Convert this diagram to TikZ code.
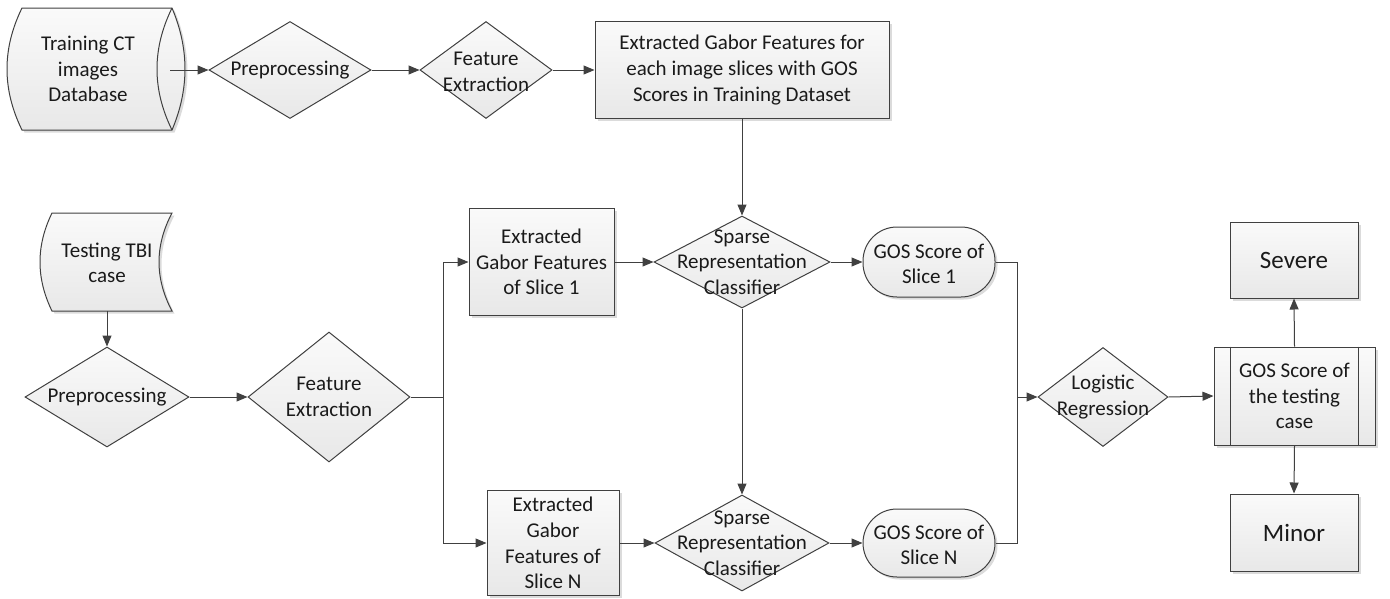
\documentclass[tikz,border=0pt]{standalone}
\usepackage{fontspec}
\setmainfont{Carlito}
\usetikzlibrary{arrows.meta,shapes.geometric,shadows}
\definecolor{ln}{HTML}{404040}
\definecolor{tx}{HTML}{1A1A1A}
\tikzset{
  base/.style={draw=ln, line width=1pt, top color=white!98!black, bottom color=black!9, inner sep=0pt, text=tx},
  shd/.style={drop shadow={shadow xshift=2.5pt, shadow yshift=-2.5pt, fill=black!14, opacity=1}},
  boxnode/.style={base, shd, rectangle},
  dia/.style={base, diamond},
  term/.style={base, shd, rectangle, rounded corners=34pt},
  lbl/.style={font=\fontsize{21}{25.6}\selectfont, align=center, text=tx, inner sep=0pt},
  big/.style={font=\fontsize{25}{30}\selectfont},
  arr/.style={draw=ln, line width=1pt, -{Triangle[length=11pt,width=9pt]}},
  ln/.style={draw=ln, line width=1pt},
}
\begin{document}
\begin{tikzpicture}[x=1pt, y=-1pt]
\useasboundingbox (0,0) rectangle (1390,598);

% ---- training database (horizontal cylinder)
\path[base, shd] (22,8) -- (172,8) .. controls (189.3,48.7) and (189.3,89.3) .. (172,130) -- (22,130) .. controls (2,89.3) and (2,48.7) .. (22,8) -- cycle;
\draw[ln] (172,8) .. controls (152,48.7) and (152,89.3) .. (172,130);
\node[lbl] (cylt) at (88,69) {Training CT\\images\\Database};
\coordinate (cylo) at (170,70);

% ---- top row
\node[dia, minimum width=162pt, minimum height=97pt] (p1) at (290,70) {};
\node[lbl] (p1t) at (p1) {Preprocessing};
\node[dia, minimum width=132pt, minimum height=97pt] (fe1) at (486,70) {};
\node[lbl] (fe1t) at (486,72) {Feature\\Extraction};
\node[boxnode, minimum width=294pt, minimum height=97pt] (tb) at (742,70) {};
\node[lbl] (tbt) at (tb) {Extracted Gabor Features for\\each image slices with GOS\\Scores in Training Dataset};

\draw[arr] (cylo) -- (p1.west);
\draw[arr] (p1.east) -- (fe1.west);
\draw[arr] (fe1.east) -- (tb.west);

% ---- testing case (stored data)
\path[base, shd] (52,213) -- (172,213) .. controls (154.7,245.7) and (154.7,278.3) .. (172,311) -- (52,311) .. controls (36,278.3) and (36,245.7) .. (52,213) -- cycle;
\node[lbl] (tbit) at (107,263) {Testing TBI\\case};
\coordinate (tbio) at (107,311);

\node[dia, minimum width=164pt, minimum height=100pt] (p2) at (107,397) {};
\node[lbl] (p2t) at (p2) {Preprocessing};
\node[dia, minimum width=162pt, minimum height=130pt] (fe2) at (329,397) {};
\node[lbl] (fe2t) at (fe2) {Feature\\Extraction};

\draw[arr] (tbio) -- (p2.north);
\draw[arr] (p2.east) -- (fe2.west);

% ---- slice branches
\coordinate (br) at (443,397);
\node[boxnode, minimum width=145pt, minimum height=107pt] (b1) at (541.5,262) {};
\node[lbl] (b1t) at (b1) {Extracted\\Gabor Features\\of Slice 1};
\node[boxnode, minimum width=132pt, minimum height=105pt] (bn) at (553,543) {};
\node[lbl] (bnt) at (bn) {Extracted\\Gabor\\Features of\\Slice N};

\draw[ln] (fe2.east) -- (br);
\draw[arr] (br) |- (b1.west);
\draw[arr] (br) |- (bn.west);

\node[dia, minimum width=176pt, minimum height=92pt] (s1) at (742,262) {};
\node[lbl] (s1t) at (s1) {Sparse\\Representation\\Classifier};
\node[dia, minimum width=174pt, minimum height=96pt] (s2) at (742,543) {};
\node[lbl] (s2t) at (s2) {Sparse\\Representation\\Classifier};

\node[term, minimum width=132pt, minimum height=70pt] (g1) at (929,262) {};
\node[lbl] (g1t) at (929,264) {GOS Score of\\Slice 1};
\node[term, minimum width=132pt, minimum height=68pt] (gn) at (929,543) {};
\node[lbl] (gnt) at (929,545) {GOS Score of\\Slice N};

\draw[arr] (tb.south) -- (s1.north);
\draw[arr] (b1.east) -- (s1.west);
\draw[arr] (s1.east) -- (g1.west);
\draw[arr] (s1.south) -- (s2.north);
\draw[arr] (bn.east) -- (s2.west);
\draw[arr] (s2.east) -- (gn.west);

% ---- merge and logistic regression
\coordinate (mg) at (1017,397);
\node[dia, minimum width=130pt, minimum height=99pt] (lr) at (1103,397) {};
\node[lbl] (lrt) at (lr) {Logistic\\Regression};
\draw[ln] (g1.east) -| (mg);
\draw[ln] (gn.east) -| (mg);
\draw[arr] (mg) -- (lr.west);

% ---- predefined process
\node[boxnode, minimum width=161pt, minimum height=98pt] (pp) at (1294.5,396) {};
\draw[ln] ([xshift=17pt]pp.north west) -- ([xshift=17pt]pp.south west);
\draw[ln] ([xshift=-17pt]pp.north east) -- ([xshift=-17pt]pp.south east);
\node[lbl] (ppt) at (pp) {GOS Score of\\the testing\\case};
\draw[arr] (lr.east) -- (pp.west);

\node[boxnode, minimum width=128pt, minimum height=76pt] (sev) at (1294,260) {};
\node[lbl, big] (sevt) at (sev) {Severe};
\node[boxnode, minimum width=128pt, minimum height=77pt] (min) at (1294,532.5) {};
\node[lbl, big] (mint) at (min) {Minor};
\draw[arr] (pp.north) -- (sev.south);
\draw[arr] (pp.south) -- (min.north);
\end{tikzpicture}
\end{document}
